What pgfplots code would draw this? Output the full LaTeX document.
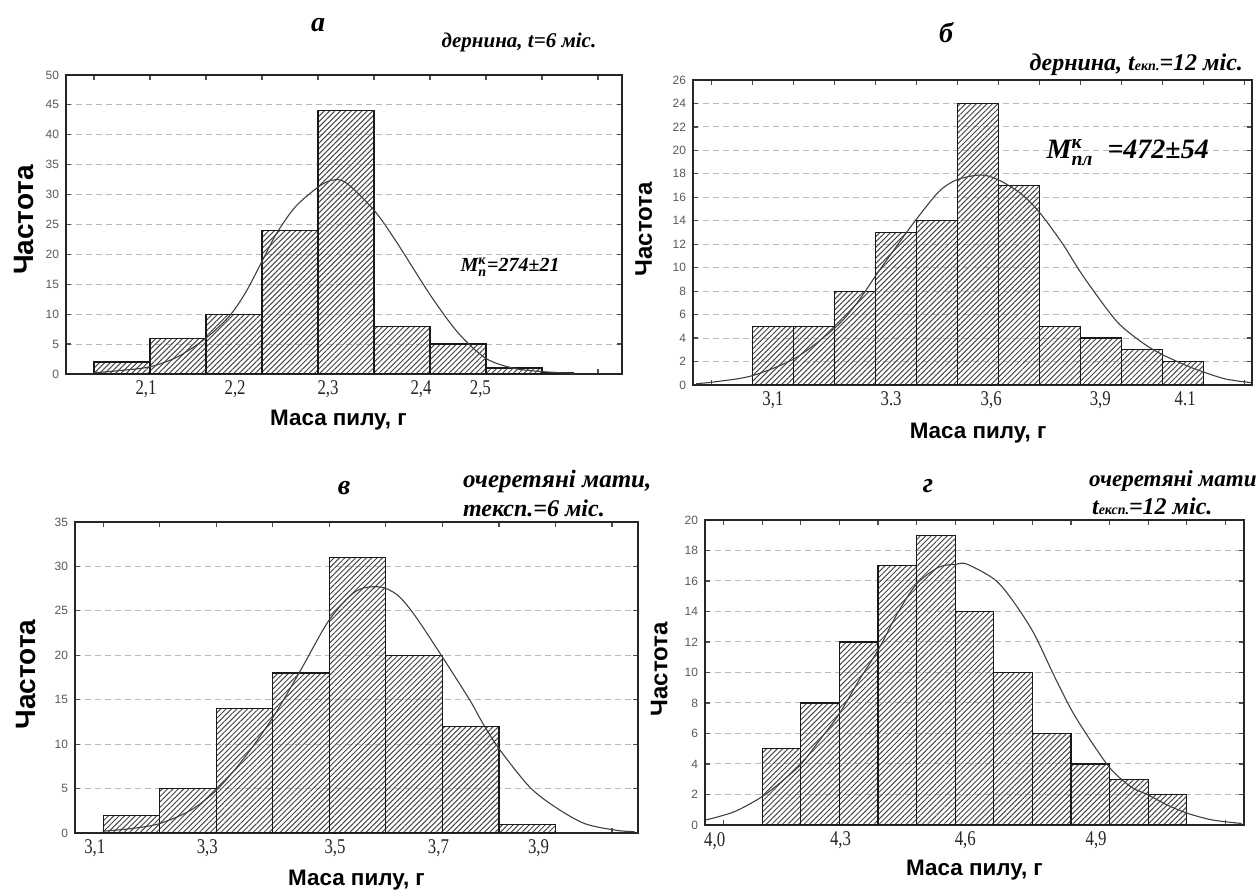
\documentclass[border=0pt]{standalone}
\usepackage{pgfplots}
\pgfplotsset{compat=1.18}
\usepackage{fontspec}
\setmainfont{Liberation Serif}
\setsansfont{Liberation Sans}
\usepackage{amsmath}
\usepackage{graphicx}
\usetikzlibrary{patterns.meta}
\newcommand{\xt}[1]{\scalebox{0.8}[1]{#1}}
\pgfplotsset{
  hist/.style={
    scale only axis, anchor=south west, xmin=0, ymin=0,
    /pgf/number format/assume math mode=true,
    axis line style={line width=0.9pt, black!85},
    ymajorgrids, grid style={densely dashed, black!28, line width=0.5pt},
    tick align=inside, major tick length=2.5pt,
    every tick/.append style={black!70, line width=0.6pt},
    yticklabel style={font=\sffamily\fontsize{6}{6}\selectfont, text=black!65},
    xticklabel style={font=\fontsize{10.5}{10.5}\selectfont, text=black!85},
    xticklabels={},
    extra x tick style={major tick length=0pt, tick style={draw=none}},
    xlabel style={anchor=center, font=\sffamily\bfseries\fontsize{11.2}{12}\selectfont},
    ylabel style={anchor=center, font=\sffamily\bfseries\fontsize{14}{14}\selectfont},
  },
  hbar/.style={ybar interval, draw=black!90, line width=0.6pt,
    pattern={Lines[angle=45,distance=1.9pt,line width=0.5pt]}, pattern color=black!72},
  curve/.style={smooth, black!75, line width=0.55pt},
}
\begin{document}
\begin{tikzpicture}
\path[use as bounding box] (0,0) rectangle (628pt,446pt);

% ---------- а ----------
\begin{axis}[hist, at={(33pt,259pt)}, width=278pt, height=149.5pt,
  xmax=9.93, ymax=50, ytick={0,5,...,50},
  xtick={0.5,1.5,...,9.5},
  extra x ticks={1.43,3.02,4.68,6.34,7.4},
  extra x tick labels={{\xt{2,1}},{\xt{2,2}},{\xt{2,3}},{\xt{2,4}},{\xt{2,5}}},
  xlabel={Маса пилу, г}, ylabel={Частота},
  xlabel style={at={(axis description cs:0.49,-0.154)}},
  ylabel style={at={(axis description cs:-0.076,0.515)}}]
\addplot[hbar] coordinates {(0.5,2) (1.5,6) (2.5,10) (3.5,24) (4.5,44) (5.5,8) (6.5,5) (7.5,1) (8.5,0.3) (9.07,0)};
\addplot[curve] coordinates {(0.5,0.2) (0.94,0.55) (1.5,1.2) (2.0,2.9) (2.5,6) (2.91,9.6) (3.2,13.5) (3.51,19) (3.76,23.5) (4.1,28) (4.51,31.3) (4.75,32.4) (5.0,32) (5.5,27.4) (5.88,22.4) (6.52,13) (7.01,6.8) (7.5,2.6) (8.0,0.95) (8.5,0.4) (9.08,0.1)};
\node[font=\bfseries\itshape\fontsize{10}{10}\selectfont] at (axis cs:7.93,17.9) {M$_{\text{п}}^{\text{к}}$=274±21};
\end{axis}

% ---------- б ----------
\begin{axis}[hist, at={(346.5pt,253.5pt)}, width=279.5pt, height=152.5pt,
  xmax=13.63, ymax=26, ytick={0,2,...,26},
  xtick={0.45,1.45,...,13.45},
  extra x ticks={1.95,4.83,7.27,9.93,12.0},
  extra x tick labels={{\xt{3,1}},{\xt{3.3}},{\xt{3,6}},{\xt{3,9}},{\xt{4.1}}},
  xlabel={Маса пилу, г}, ylabel={Частота},
  ylabel style={font=\sffamily\bfseries\fontsize{12}{12}\selectfont},
  xlabel style={at={(axis description cs:0.51,-0.157)}},
  ylabel style={at={(axis description cs:-0.088,0.51)}}]
\addplot[hbar] coordinates {(1.45,5) (2.45,5) (3.45,8) (4.45,13) (5.45,14) (6.45,24) (7.45,17) (8.45,5) (9.45,4) (10.45,3) (11.45,2) (12.45,0)};
\addplot[curve] coordinates {(0.07,0.1) (0.6,0.3) (1.45,0.8) (2.5,2.3) (3.47,4.9) (4.0,7) (4.49,9.5) (5.0,12) (5.44,14.1) (6.0,16.5) (6.44,17.5) (7.02,17.9) (7.44,17.5) (8.0,16.3) (8.45,14.7) (9.0,12.1) (9.45,9.6) (10.0,6.9) (10.42,5.1) (11.0,3.5) (11.44,2.6) (12.0,1.7) (12.45,1.1) (13.0,0.5) (13.6,0.2)};
\node[font=\bfseries\itshape\fontsize{14}{14}\selectfont] at (axis cs:10.6,19.8) {M$^{\text{к}}_{\text{пл}}$\ \ =472±54};
\end{axis}

% ---------- в ----------
\begin{axis}[hist, at={(37.5pt,29.5pt)}, width=281.5pt, height=155.5pt,
  xmax=9.96, ymax=35, ytick={0,5,...,35},
  xtick={0.5,1.5,...,9.5},
  extra x ticks={0.35,2.34,4.6,6.43,8.2},
  extra x tick labels={{\xt{3,1}},{\xt{3,3}},{\xt{3,5}},{\xt{3,7}},{\xt{3,9}}},
  xlabel={Маса пилу, г}, ylabel={Частота},
  xlabel style={at={(axis description cs:0.5,-0.151)}},
  ylabel style={at={(axis description cs:-0.087,0.51)}}]
\addplot[hbar] coordinates {(0.5,2) (1.5,5) (2.5,14) (3.5,18) (4.5,31) (5.5,20) (6.5,12) (7.5,1) (8.5,0)};
\addplot[curve] coordinates {(0.49,0.2) (1.0,0.5) (1.49,1.05) (2.03,2.5) (2.5,4.8) (3.0,8.5) (3.5,13) (3.99,18.3) (4.5,24) (4.97,27.2) (5.38,27.7) (5.7,26.8) (6.01,24.5) (6.5,19.8) (6.99,14.9) (7.2,12.5) (7.5,9.5) (8.04,5.2) (8.5,2.9) (9.02,1.05) (9.58,0.3) (9.9,0.15)};
\end{axis}

% ---------- г ----------
\begin{axis}[hist, at={(352.5pt,33.5pt)}, width=269.5pt, height=152.5pt,
  xmax=13.96, ymax=20, ytick={0,2,...,20},
  xtick={0.48,1.48,...,13.48},
  extra x ticks={0.25,3.51,6.74,10.13},
  extra x tick labels={{\xt{4,0}},{\xt{4,3}},{\xt{4,6}},{\xt{4,9}}},
  xlabel={Маса пилу, г}, ylabel={Частота},
  ylabel style={font=\sffamily\bfseries\fontsize{12}{12}\selectfont},
  xlabel style={at={(axis description cs:0.5,-0.148)}},
  ylabel style={at={(axis description cs:-0.085,0.51)}}]
\addplot[hbar] coordinates {(1.48,5) (2.48,8) (3.48,12) (4.48,17) (5.48,19) (6.48,14) (7.48,10) (8.48,6) (9.48,4) (10.48,3) (11.48,2) (12.48,0)};
\addplot[curve] coordinates {(0.02,0.33) (0.76,0.87) (1.48,1.86) (2.03,2.95) (2.49,4.0) (2.98,5.6) (3.48,7.3) (3.99,9.5) (4.49,11.5) (4.99,13.9) (5.48,15.8) (6.05,16.9) (6.51,17.1) (6.79,17.1) (7.5,16.1) (7.96,14.75) (8.51,12.6) (9.02,9.9) (9.5,7.5) (9.97,5.6) (10.5,3.7) (11.03,2.5) (11.48,1.97) (11.98,1.3) (12.49,0.77) (13.14,0.33) (13.9,0.1)};
\end{axis}

% ---------- titles ----------
\node[font=\bfseries\itshape\fontsize{14}{14}\selectfont] at (159pt,433.5pt) {а};
\node[font=\bfseries\itshape\fontsize{10.5}{12}\selectfont] at (259.5pt,425pt) {дернина, t=6 міс.};
\node[font=\bfseries\itshape\fontsize{14}{14}\selectfont] at (473pt,429.5pt) {б};
\node[font=\bfseries\itshape\fontsize{12}{12}\selectfont, anchor=east] at (625pt,413.5pt) {дернина, t{\fontsize{7}{7}\selectfont екп.}=12 міс.};
\node[font=\bfseries\itshape\fontsize{14}{14}\selectfont] at (172pt,202pt) {в};
\node[font=\bfseries\itshape\fontsize{12.5}{12}\selectfont, anchor=west] at (228pt,205.5pt) {очеретяні мати,};
\node[font=\bfseries\itshape\fontsize{12}{12}\selectfont, anchor=west] at (228pt,192pt) {тексп.=6 міс.};
\node[font=\bfseries\itshape\fontsize{14}{14}\selectfont] at (464pt,203pt) {г};
\node[font=\bfseries\itshape\fontsize{11.5}{12}\selectfont, anchor=west] at (541pt,205.5pt) {очеретяні мати};
\node[font=\bfseries\itshape\fontsize{12}{12}\selectfont, anchor=west] at (542.5pt,193pt) {t{\fontsize{7}{7}\selectfont експ.}=12 міс.};
\end{tikzpicture}
\end{document}
